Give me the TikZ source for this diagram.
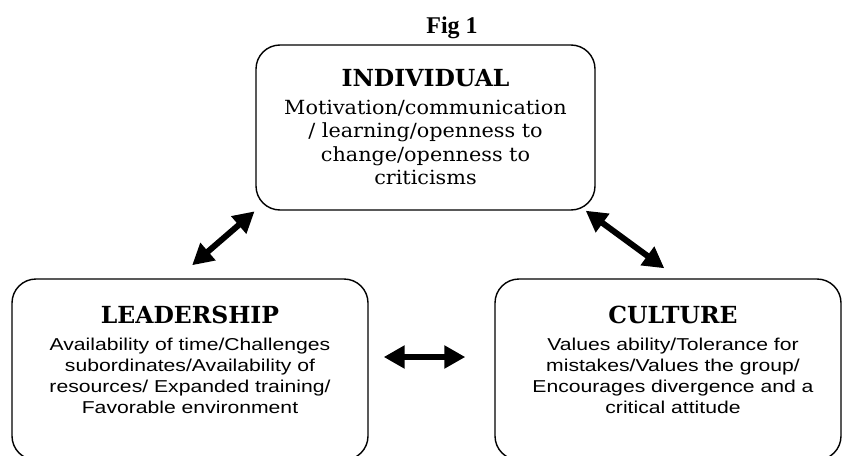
\documentclass[tikz,border=0pt]{standalone}
\usepackage{fontspec}
\setmainfont{DejaVu Serif}
\newfontfamily\figfont{Liberation Serif}
\newfontfamily\bodyserif{DejaVu Serif}[FakeStretch=1.065]
\newfontfamily\boxsans{Liberation Sans}[FakeStretch=1.23]
\usetikzlibrary{arrows.meta,positioning}

\begin{document}
\begin{tikzpicture}[x=1pt, y=-1pt, node distance=0pt,
    box/.style={draw, line width=1.4pt, rounded corners=24pt, inner sep=0pt},
    boxtext/.style={align=center, inner sep=0pt},
    boxtitle/.style={},
    twoway/.style={{Triangle[length=21pt,width=22pt]}-{Triangle[length=21pt,width=22pt]}, line width=6pt}]
    \useasboundingbox (0,0) rectangle (843,455);
    \clip (0,0) rectangle (843,455);

    % Title
    \node [anchor=base, inner sep=0pt, font=\figfont\bfseries\fontsize{24}{28}\selectfont] (figtitle) at (452,33) {Fig 1};

    % Boxes
    \node [box, minimum width=339pt, minimum height=165pt] (indiv) at (425.5,127.5) {};
    \node [box, minimum width=356pt, minimum height=181pt] (lead)  at (190,369.5)   {};
    \node [box, minimum width=346pt, minimum height=181pt] (cult)  at (668,369.5)   {};

    % Texts
    \node [boxtext, below=25pt of indiv.north, font=\bodyserif\fontsize{19.5}{23.3}\selectfont] (indivtext)
        {{\normalfont\bfseries\fontsize{23.5}{28}\selectfont INDIVIDUAL}\\[4.7pt]
         Motivation/communication\\ / learning/openness to\\ change/openness to\\ criticisms};
    \node [boxtext, below=28pt of lead.north, font=\boxsans\fontsize{17.2}{21}\selectfont] (leadtext)
        {{\normalfont\bfseries\fontsize{23.5}{24}\selectfont LEADERSHIP}\\[6pt]
         Availability of time/Challenges\\ subordinates/Availability of\\ resources/ Expanded training/\\ Favorable environment};
    \node [boxtext, below=28pt of cult.north, xshift=5pt, font=\boxsans\fontsize{17.2}{21}\selectfont] (culttext)
        {{\normalfont\bfseries\fontsize{23.5}{24}\selectfont CULTURE}\\[6pt]
         Values ability/Tolerance for\\ mistakes/Values the group/\\ Encourages divergence and a\\ critical attitude};

    % Paths
    \path [twoway, shorten <=1pt, shorten >=20pt] (indiv.south west) edge ([xshift=-13pt]lead.north);
    \path [twoway, shorten >=17pt] ([xshift=-10pt]indiv.south east) edge ([xshift=10pt]cult.north);
    \path [twoway, shorten <=15pt, shorten >=29pt] ([yshift=12.5pt]lead.east) edge ([yshift=12.5pt]cult.west);
\end{tikzpicture}
\end{document}
